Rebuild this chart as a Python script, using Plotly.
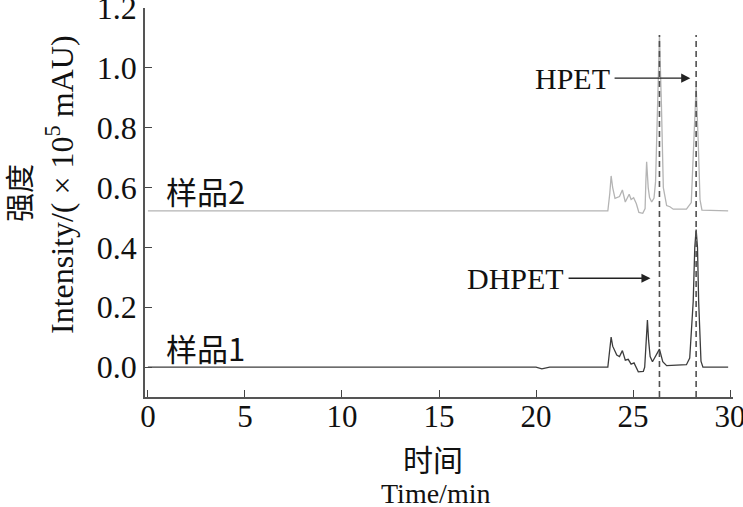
import plotly.graph_objects as go

# Sample 1 chromatogram (time in min, intensity in 1e5 mAU)
t1 = [0, 20.0, 20.3, 20.5, 20.7, 23.7, 23.8, 23.87, 23.95, 24.16, 24.3, 24.45, 24.6, 24.75,
      24.9, 25.05, 25.27, 25.53, 25.6, 25.68, 25.74, 25.8, 25.88, 26.0, 26.2, 26.36, 26.53,
      26.73, 27.75, 27.92, 28.1, 28.18, 28.25, 28.32, 28.38, 28.5, 28.6, 29.9]
y1 = [0, 0, -0.006, -0.003, 0, 0, 0.05, 0.1, 0.07, 0.04, 0.035, 0.055, 0.023, 0.026,
      0.01, 0.014, -0.016, -0.014, 0.0, 0.09, 0.157, 0.09, 0.035, 0.018, 0.04, 0.06, 0.018,
      0.005, 0.008, 0.03, 0.22, 0.4, 0.46, 0.4, 0.22, 0.02, 0.0, 0.0]

# Sample 2 chromatogram
t2 = [0, 23.7, 23.8, 23.87, 23.95, 24.07, 24.3, 24.45, 24.6, 24.8, 24.9, 25.03, 25.17, 25.3,
      25.5, 25.62, 25.66, 25.7, 25.78, 25.85, 25.96, 26.08, 26.16, 26.26, 26.36, 26.46, 26.56,
      26.73, 26.9, 27.07, 27.75, 28.0, 28.12, 28.25, 28.36, 28.45, 28.55, 29.9]
y2 = [0.522, 0.522, 0.58, 0.639, 0.6, 0.564, 0.57, 0.592, 0.552, 0.578, 0.56, 0.566, 0.546, 0.517,
      0.514, 0.53, 0.62, 0.686, 0.6, 0.567, 0.552, 0.565, 0.62, 0.88, 1.11, 0.88, 0.6,
      0.54, 0.536, 0.528, 0.528, 0.55, 0.75, 0.94, 0.75, 0.56, 0.525, 0.522]

# Marker retention times
marker_t = [26.36, 28.25]
dash_top = 1.11

sample_labels = ["样品1", "样品2"]
label_y = [0.064, 0.59]

x_ticks = [0, 5, 10, 15, 20, 25, 30]
y_ticks = [0.0, 0.2, 0.4, 0.6, 0.8, 1.0, 1.2]

serif = "Liberation Serif, Times New Roman, serif"
cjk = "Noto Sans CJK SC"
L, R, T, B = 145, 10, 8, 110
W, H = 743, 507
pw, ph = W - L - R, H - T - B

def px(xp):
    return (xp - L) / pw

def py(yp):
    return (H - B - yp) / ph

fig = go.Figure()
fig.add_trace(go.Scatter(x=t2, y=y2, mode="lines", line=dict(color="#b4b4b4", width=1.3),
                         showlegend=False, hoverinfo="skip", cliponaxis=False))
fig.add_trace(go.Scatter(x=t1, y=y1, mode="lines", line=dict(color="#3c3c3c", width=1.3),
                         showlegend=False, hoverinfo="skip", cliponaxis=False))
for mt in marker_t:
    fig.add_trace(go.Scatter(x=[mt, mt], y=[-0.1, dash_top], mode="lines",
                             line=dict(color="#505050", width=1.6, dash="6px,4px"),
                             showlegend=False, hoverinfo="skip"))

ann = []
for lab, ly in zip(sample_labels, label_y):
    ann.append(dict(x=0.85, y=ly, xref="x", yref="y", text=lab, showarrow=False,
                    xanchor="left", yanchor="middle", font=dict(family=cjk, size=31, color="#111")))

# Peak labels with arrows
ann.append(dict(x=23.92, y=0.966, xref="x", yref="y", text="HPET", showarrow=False,
                xanchor="right", yanchor="middle", font=dict(family=serif, size=30, color="#111")))
ann.append(dict(x=27.95, y=0.966, ax=23.97, ay=0.966, xref="x", yref="y", axref="x", ayref="y",
                text="", showarrow=True, arrowhead=2, arrowsize=1.3, arrowwidth=1.4, arrowcolor="#222"))
ann.append(dict(x=21.55, y=0.297, xref="x", yref="y", text="DHPET", showarrow=False,
                xanchor="right", yanchor="middle", font=dict(family=serif, size=30, color="#111")))
ann.append(dict(x=25.9, y=0.297, ax=21.6, ay=0.297, xref="x", yref="y", axref="x", ayref="y",
                text="", showarrow=True, arrowhead=2, arrowsize=1.3, arrowwidth=1.4, arrowcolor="#222"))

# Axis titles
ann.append(dict(x=px(18), y=py(193), xref="paper", yref="paper", text="强度", showarrow=False,
                textangle=-90, xanchor="center", yanchor="middle", font=dict(family=cjk, size=29, color="#111")))
ann.append(dict(x=px(60), y=py(185), xref="paper", yref="paper",
                text="Intensity/( × 10<sup>5</sup> mAU)", showarrow=False,
                textangle=-90, xanchor="center", yanchor="middle", font=dict(family=serif, size=32, color="#111")))
ann.append(dict(x=px(433), y=py(458), xref="paper", yref="paper", text="时间", showarrow=False,
                xanchor="center", yanchor="middle", font=dict(family=cjk, size=30, color="#111")))
ann.append(dict(x=px(435), y=py(493), xref="paper", yref="paper", text="Time/min", showarrow=False,
                xanchor="center", yanchor="middle", font=dict(family=serif, size=28, color="#111")))

fig.update_layout(
    width=W, height=H, margin=dict(l=L, r=R, t=T, b=B, autoexpand=False),
    paper_bgcolor="white", plot_bgcolor="white",
    annotations=ann,
    xaxis=dict(range=[-0.15, 30.15], tickvals=x_ticks, ticks="inside", ticklen=7, tickwidth=1.3,
               tickcolor="#444", showline=True, linecolor="#555", linewidth=1.6, showgrid=False,
               zeroline=False, automargin=False, ticklabeloverflow="allow", ticklabelstandoff=-9,
               tickfont=dict(family=serif, size=31, color="#111")),
    yaxis=dict(range=[-0.1, 1.2005], tickvals=y_ticks, tickformat=".1f", ticks="inside", ticklen=7,
               tickwidth=1.3, tickcolor="#444", showline=True, linecolor="#555", linewidth=1.6,
               showgrid=False, zeroline=False, automargin=False, ticklabeloverflow="allow",
               tickfont=dict(family=serif, size=32, color="#111")),
)
fig.write_html("out.html", config={"displayModeBar": False},
               post_script="document.body.style.margin='0';document.body.style.overflow='hidden';")
